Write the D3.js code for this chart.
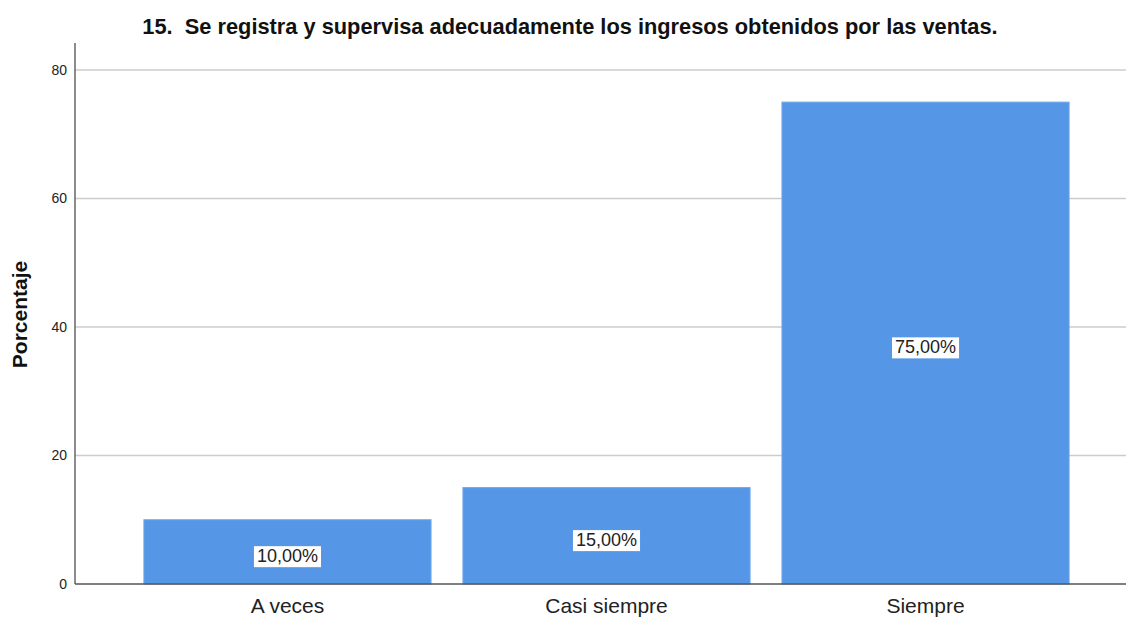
<!DOCTYPE html>
<html>
<head>
<meta charset="utf-8">
<script src="https://cdn.jsdelivr.net/npm/d3@7"></script>
<style>
  html, body { margin: 0; padding: 0; background: #fff; }
  svg { display: block; font-family: "Liberation Sans", Arial, sans-serif; }
</style>
</head>
<body>
<svg id="chart" width="1126" height="618"></svg>
<script>
// Response categories and their percentages
const categories = ["A veces", "Casi siempre", "Siempre"];
const percentages = [10, 15, 75];
const valueLabels = ["10,00%", "15,00%", "75,00%"];
const yTicks = [0, 20, 40, 60, 80];
const titleText = "15.  Se registra y supervisa adecuadamente los ingresos obtenidos por las ventas.";
const yAxisTitle = "Porcentaje";

const W = 1126, H = 618;
const plotLeft = 75, plotTop = 43, plotBottom = 584, plotRight = 1138;

const svg = d3.select("#chart");

const x = d3.scaleBand()
  .domain(categories)
  .range([plotLeft, plotRight])
  .paddingInner(0.1)
  .paddingOuter(0.216);

const y = d3.scaleLinear()
  .domain([0, 80])
  .range([plotBottom, 70]);

// Horizontal grid lines
svg.append("g")
  .selectAll("line")
  .data(yTicks.filter(d => d > 0))
  .join("line")
  .attr("x1", plotLeft).attr("x2", W)
  .attr("y1", d => y(d)).attr("y2", d => y(d))
  .attr("stroke", "#cccccc")
  .attr("stroke-width", 1.5);

// Bars
svg.append("g")
  .selectAll("rect")
  .data(categories)
  .join("rect")
  .attr("x", d => x(d))
  .attr("width", x.bandwidth())
  .attr("y", (d, i) => y(percentages[i]))
  .attr("height", (d, i) => y(0) - y(percentages[i]))
  .attr("fill", "#5596e6")
  .attr("stroke", "#6ea6ea")
  .attr("stroke-width", 1);

// Y axis
const yAxis = d3.axisLeft(y).tickValues(yTicks).tickSize(0).tickPadding(8);
const gy = svg.append("g").attr("transform", `translate(${plotLeft},0)`).call(yAxis);
gy.select(".domain").remove();
gy.selectAll("text")
  .attr("font-size", 14)
  .attr("fill", "#222")
  .attr("font-family", "Liberation Sans, Arial, sans-serif");
svg.append("line")
  .attr("x1", plotLeft).attr("x2", plotLeft)
  .attr("y1", plotTop).attr("y2", plotBottom)
  .attr("stroke", "#666").attr("stroke-width", 1.5);

// X axis
const xAxis = d3.axisBottom(x).tickSize(0).tickPadding(14);
const gx = svg.append("g").attr("transform", `translate(0,${plotBottom})`).call(xAxis);
gx.select(".domain").remove();
gx.selectAll("text")
  .attr("font-size", 21)
  .attr("fill", "#222")
  .attr("font-family", "Liberation Sans, Arial, sans-serif");
svg.append("line")
  .attr("x1", plotLeft).attr("x2", W)
  .attr("y1", plotBottom).attr("y2", plotBottom)
  .attr("stroke", "#555").attr("stroke-width", 1.5);

// Value labels in white boxes at the middle of each bar
const labels = svg.append("g")
  .selectAll("g")
  .data(categories)
  .join("g")
  .attr("transform", (d, i) => {
    const cx = x(d) + x.bandwidth() / 2;
    const cy = (y(percentages[i]) + y(0)) / 2 + 4;
    return `translate(${cx},${cy})`;
  });
labels.each(function(d, i) {
  const g = d3.select(this);
  const t = g.append("text")
    .attr("text-anchor", "middle")
    .attr("dy", "0.35em")
    .attr("font-size", 18)
    .attr("fill", "#222")
    .text(valueLabels[i]);
  const bb = t.node().getBBox();
  g.insert("rect", "text")
    .attr("x", bb.x - 3).attr("y", bb.y)
    .attr("width", bb.width + 6).attr("height", bb.height + 1)
    .attr("fill", "#fff");
});

// Title
svg.append("text")
  .attr("x", 570).attr("y", 34)
  .attr("text-anchor", "middle")
  .attr("font-size", 21.8)
  .attr("font-weight", "bold")
  .attr("fill", "#111")
  .style("white-space", "pre")
  .text(titleText);

// Y axis title
svg.append("text")
  .attr("transform", `translate(27,${(plotTop + plotBottom) / 2 + 1}) rotate(-90)`)
  .attr("text-anchor", "middle")
  .attr("font-size", 21)
  .attr("font-weight", "bold")
  .attr("fill", "#111")
  .text(yAxisTitle);
</script>
</body>
</html>
